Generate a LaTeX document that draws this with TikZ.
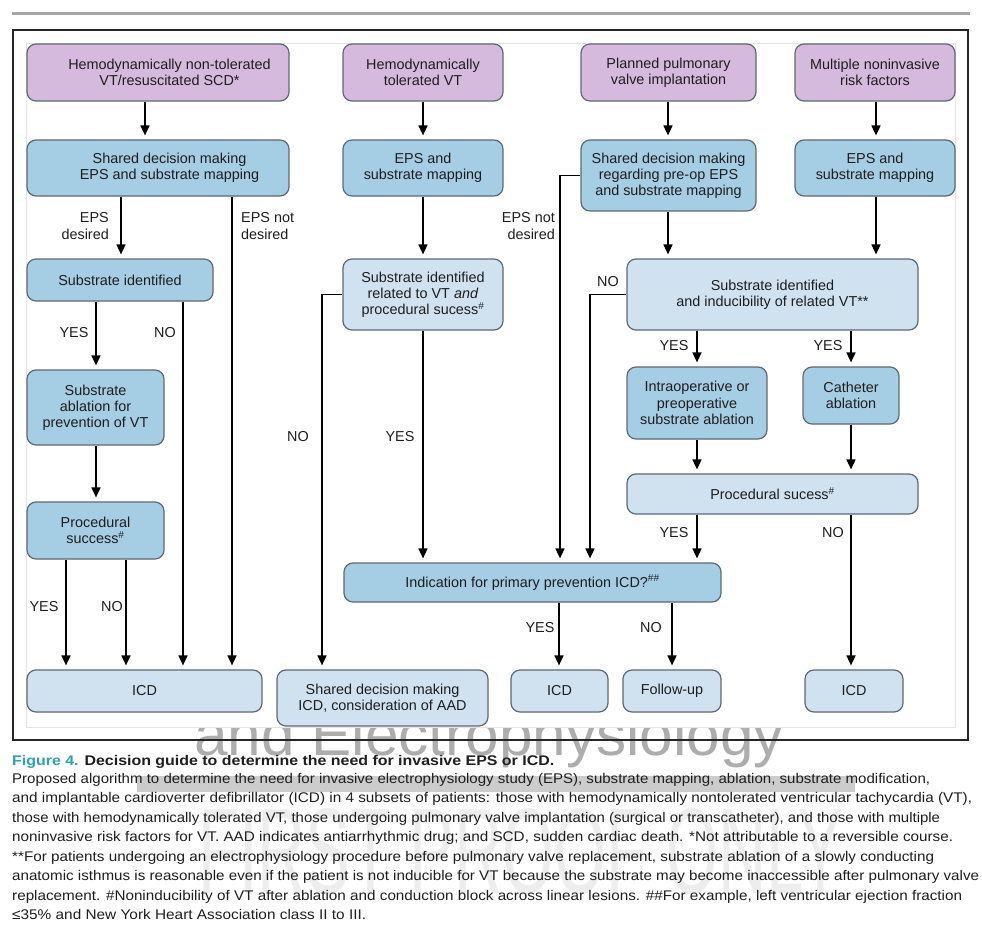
\documentclass[tikz,border=0pt]{standalone}
\usepackage{fontspec}
\setmainfont{Liberation Sans}
\usepackage{graphicx}
\usetikzlibrary{arrows.meta}
\definecolor{purp}{RGB}{214,186,221}
\definecolor{bmid}{RGB}{165,205,228}
\definecolor{blite}{RGB}{208,226,240}
\definecolor{bord}{RGB}{95,105,115}
\definecolor{capteal}{RGB}{42,163,172}
\definecolor{txt}{RGB}{30,30,30}
\begin{document}
\begin{tikzpicture}[x=1pt,y=-1pt,
  box/.style={draw=bord, line width=1.2pt, rounded corners=9pt, align=center, inner sep=0pt,
    font=\fontsize{14.4}{16.2}\selectfont, text=txt},
  pbox/.style={box, fill=purp},
  mbox/.style={box, fill=bmid},
  lbox/.style={box, fill=blite},
  arr/.style={line width=1.6pt, -{Triangle[width=9pt,length=10pt]}, shorten >=4pt},
  lab/.style={font=\fontsize{14.4}{16.2}\selectfont, inner sep=0pt, text=txt},
  capline/.style={anchor=base west, inner sep=0pt, text=txt},
]
\useasboundingbox (0,0) rectangle (982,947);
% top bar
\draw[line width=3.5pt, black!35] (12,13.5) -- (970,13.5);
% watermark 1 (behind panel)
\node[anchor=base west, inner sep=0pt, text=black!32] (wm1) at (194,755)
  {\resizebox{590pt}{\height}{\fontsize{60}{60}\selectfont and Electrophysiology}};
% panel
\filldraw[fill=white, draw=black!10, line width=0.8pt] (26,43) rectangle (955,727);
% frame
\draw[line width=1.3pt, black!85] (13,30) rectangle (968,740);

% lanes
\foreach \x in {66,96,121,126,145,183,232,322,423,559,560,590,668,672,697,851,876}
  \coordinate (L\x) at (\x,0);

% row A
\node[pbox, minimum width=262pt, minimum height=57pt] (a1) at (158,72.5) {};
\node[lab, align=center] (a1t) at (169.5,72.5) {Hemodynamically non-tolerated\\VT/resuscitated SCD*};
\node[pbox, minimum width=160pt, minimum height=57pt] (a2) at (423,72.5) {Hemodynamically\\tolerated VT};
\node[pbox, minimum width=175pt, minimum height=57pt] (a3) at (668.5,72.5) {Planned pulmonary\\valve implantation};
\node[pbox, minimum width=160pt, minimum height=57pt] (a4) at (875,72.5) {Multiple noninvasive\\risk factors};
% row B
\node[mbox, minimum width=262pt, minimum height=56pt] (b1) at (158,168) {};
\node[lab, align=center] (b1t) at (169.5,168) {Shared decision making\\EPS and substrate mapping};
\node[mbox, minimum width=160pt, minimum height=56pt] (b2) at (423,168) {EPS and\\substrate mapping};
\node[mbox, minimum width=175pt, minimum height=71pt] (b3) at (668.5,175.5) {Shared decision making\\regarding pre-op EPS\\and substrate mapping};
\node[mbox, minimum width=160pt, minimum height=56pt] (b4) at (875,168) {EPS and\\substrate mapping};
% row C
\node[mbox, minimum width=186pt, minimum height=42pt] (c1) at (120,280) {Substrate identified};
\node[lbox, minimum width=160pt, minimum height=71pt] (c2) at (423,294.5) {Substrate identified\\related to VT \textit{and}\\procedural sucess\textsuperscript{\#}};
\node[lbox, minimum width=291pt, minimum height=71pt] (c3) at (772.5,294.5) {Substrate identified\\and inducibility of related VT**};
% row D
\node[mbox, minimum width=137pt, minimum height=75pt] (d1) at (95.5,407.5) {Substrate\\ablation for\\prevention of VT};
\node[mbox, minimum width=140pt, minimum height=72pt] (d3) at (697,403) {Intraoperative or\\preoperative\\substrate ablation};
\node[mbox, minimum width=96pt, minimum height=57pt] (d4) at (851,395.5) {Catheter\\ablation};
% row E
\node[mbox, minimum width=137pt, minimum height=57pt] (e1) at (95.5,530.5) {Procedural\\success\textsuperscript{\#}};
\node[lbox, minimum width=291pt, minimum height=40pt] (e3) at (772.5,494) {Procedural sucess\textsuperscript{\#}};
% G
\node[mbox, minimum width=377pt, minimum height=39pt] (g) at (532.5,582.5) {Indication for primary prevention ICD?\textsuperscript{\#\#}};
% row F
\node[lbox, minimum width=235pt, minimum height=42pt] (f1) at (144.5,691) {ICD};
\node[lbox, minimum width=211pt, minimum height=56pt] (f2) at (382.5,698) {Shared decision making\\ICD, consideration of AAD};
\node[lbox, minimum width=97pt, minimum height=42pt] (f3) at (559.5,691) {ICD};
\node[lbox, minimum width=98pt, minimum height=42pt] (f4) at (672,691) {Follow-up};
\node[lbox, minimum width=98pt, minimum height=42pt] (f5) at (854,691) {ICD};

% arrows
\draw[arr] (L145 |- a1.south) -- (L145 |- b1.north);
\draw[arr] (L423 |- a2.south) -- (L423 |- b2.north);
\draw[arr] (L668 |- a3.south) -- (L668 |- b3.north);
\draw[arr] (L876 |- a4.south) -- (L876 |- b4.north);

\draw[arr] (L121 |- b1.south) -- (L121 |- c1.north);
\draw[arr] (L232 |- b1.south) -- (L232 |- f1.north);
\draw[arr] (L96 |- c1.south) -- (L96 |- d1.north);
\draw[arr] (L183 |- c1.south) -- (L183 |- f1.north);
\draw[arr] (L96 |- d1.south) -- (L96 |- e1.north);
\draw[arr] (L66 |- e1.south) -- (L66 |- f1.north);
\draw[arr] (L126 |- e1.south) -- (L126 |- f1.north);

\draw[arr] (L423 |- b2.south) -- (L423 |- c2.north);
\draw[arr] (c2.west) -- (L322 |- c2.west) -- (L322 |- f2.north);
\draw[arr] (L423 |- c2.south) -- (L423 |- g.north);

\draw[arr] (b3.west) -- (L560 |- b3.west) -- (L560 |- g.north);
\draw[arr] (L668 |- b3.south) -- (L668 |- c3.north);
\draw[arr] (L876 |- b4.south) -- (L876 |- c3.north);
\draw[arr] (c3.west) -- (L590 |- c3.west) -- (L590 |- g.north);
\draw[arr] (L697 |- c3.south) -- (L697 |- d3.north);
\draw[arr] (L851 |- c3.south) -- (L851 |- d4.north);
\draw[arr] (L697 |- d3.south) -- (L697 |- e3.north);
\draw[arr] (L851 |- d4.south) -- (L851 |- e3.north);
\draw[arr] (L697 |- e3.south) -- (L697 |- g.north);
\draw[arr] (L851 |- e3.south) -- (L851 |- f5.north);
\draw[arr] (L559 |- g.south) -- (L559 |- f3.north);
\draw[arr] (L672 |- g.south) -- (L672 |- f4.north);

% labels
\node[lab, anchor=east, align=right] (l1) at (109,226) {EPS\\desired};
\node[lab, anchor=west, align=left] (l2) at (241,226) {EPS not\\desired};
\node[lab] (l3) at (74,333) {YES};
\node[lab] (l4) at (165,333) {NO};
\node[lab] (l5) at (44,607) {YES};
\node[lab] (l6) at (112,607) {NO};
\node[lab] (l7) at (298,437) {NO};
\node[lab] (l8) at (400,437) {YES};
\node[lab, anchor=east, align=right] (l9) at (555,226) {EPS not\\desired};
\node[lab] (l10) at (608,282) {NO};
\node[lab] (l11) at (674,346) {YES};
\node[lab] (l12) at (828,346) {YES};
\node[lab] (l13) at (674,533) {YES};
\node[lab] (l14) at (833,533) {NO};
\node[lab] (l15) at (540,628) {YES};
\node[lab] (l16) at (651,628) {NO};

% caption
\fill[black!20] (137,776) rectangle (855,792);
\node[anchor=base west, inner sep=0pt, text=black!7] (wm2) at (198,893)
  {\resizebox{645pt}{85pt}{\fontsize{100}{100}\selectfont FIRST PROOF ONLY}};
\node[capline] (cap0) at (12,765) {\resizebox{542pt}{\height}{\fontsize{14}{16}\selectfont\bfseries\textcolor{capteal}{Figure 4.} Decision guide to determine the need for invasive EPS or ICD.}};
\node[capline] (cap1) at (12,783) {\resizebox{918pt}{\height}{\fontsize{14}{16}\selectfont Proposed algorithm to determine the need for invasive electrophysiology study (EPS), substrate mapping, ablation, substrate modification,}};
\node[capline] (cap2) at (12,802.5) {\resizebox{960pt}{\height}{\fontsize{14}{16}\selectfont and implantable cardioverter defibrillator (ICD) in 4 subsets of patients: those with hemodynamically nontolerated ventricular tachycardia (VT),}};
\node[capline] (cap3) at (12,822) {\resizebox{928pt}{\height}{\fontsize{14}{16}\selectfont those with hemodynamically tolerated VT, those undergoing pulmonary valve implantation (surgical or transcatheter), and those with multiple}};
\node[capline] (cap4) at (12,841.5) {\resizebox{941pt}{\height}{\fontsize{14}{16}\selectfont noninvasive risk factors for VT. AAD indicates antiarrhythmic drug; and SCD, sudden cardiac death. *Not attributable to a reversible course.}};
\node[capline] (cap5) at (12,861) {\resizebox{922pt}{\height}{\fontsize{14}{16}\selectfont **For patients undergoing an electrophysiology procedure before pulmonary valve replacement, substrate ablation of a slowly conducting}};
\node[capline] (cap6) at (12,880.5) {\resizebox{967pt}{\height}{\fontsize{14}{16}\selectfont anatomic isthmus is reasonable even if the patient is not inducible for VT because the substrate may become inaccessible after pulmonary valve}};
\node[capline] (cap7) at (12,900) {\resizebox{950pt}{\height}{\fontsize{14}{16}\selectfont replacement. \#Noninducibility of VT after ablation and conduction block across linear lesions. \#\#For example, left ventricular ejection fraction}};
\node[capline] (cap8) at (12,919.5) {\resizebox{354pt}{\height}{\fontsize{14}{16}\selectfont ≤35\% and New York Heart Association class II to III.}};
\end{tikzpicture}
\end{document}
